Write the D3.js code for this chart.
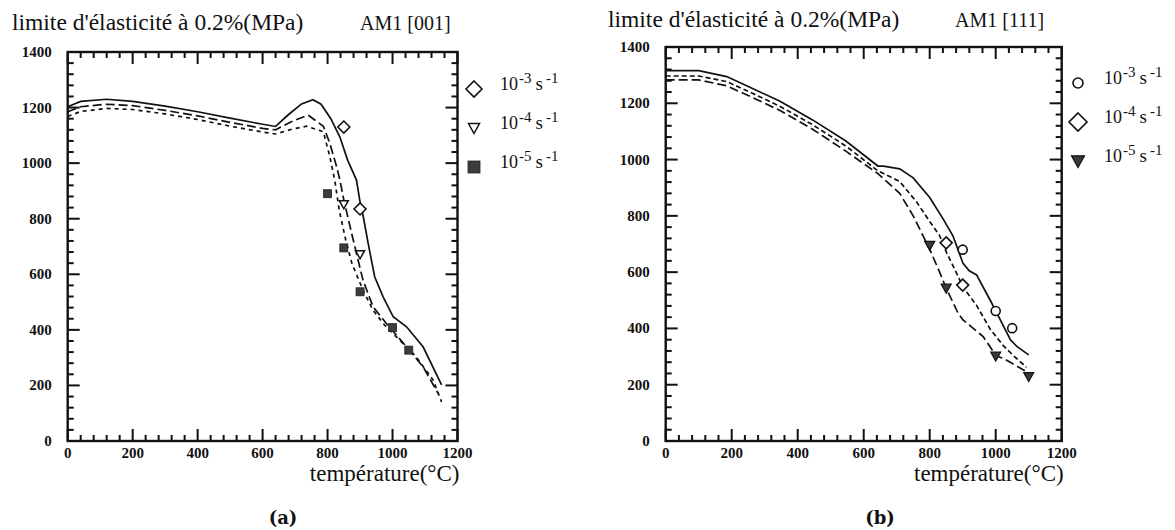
<!DOCTYPE html>
<html><head><meta charset="utf-8">
<script src="https://cdn.jsdelivr.net/npm/d3@7"></script>
<style>
html,body{margin:0;padding:0;background:#fff;}
svg{display:block;}
text{font-family:"Liberation Serif","Times New Roman",serif;fill:#111;}
</style></head>
<body>
<svg id="c" width="1175" height="530"></svg>
<script>
// ---------- data ----------
const xTickValues = [0, 200, 400, 600, 800, 1000, 1200];
const yTickValues = [0, 200, 400, 600, 800, 1000, 1200, 1400];
const xMinorStep = 40;
const yMinorStep = 40;
const titleText = "limite d'élasticité à 0.2%(MPa)";
const xLabelText = "température(°C)";
const panelNames = ["AM1 [001]", "AM1 [111]"];
const panelLetters = ["(a)", "(b)"];
const rateExponents = ["-3", "-4", "-5"];

// panel (a) AM1 [001] : model curves
const a_rate3_curve = [[0,1203],[40,1222],[120,1230],[200,1222],[300,1205],[400,1185],[500,1162],[600,1140],[640,1132],[680,1175],[720,1213],[755,1228],[780,1212],[810,1160],[838,1094],[862,1010],[889,939],[899,867],[910,807],[925,711],[945,591],[971,519],[1002,447],[1043,411],[1094,339],[1151,202]];
const a_rate4_curve = [[0,1185],[40,1203],[120,1212],[200,1207],[300,1190],[400,1170],[500,1147],[600,1125],[640,1120],[690,1150],[740,1173],[787,1133],[807,1071],[828,987],[838,939],[850,868],[870,768],[889,675],[909,579],[940,483],[981,423],[1043,339],[1094,267],[1140,172]];
const a_rate5_curve = [[0,1168],[40,1186],[120,1197],[200,1193],[300,1177],[400,1157],[500,1133],[600,1112],[640,1105],[690,1122],[735,1133],[787,1113],[807,1023],[822,939],[836,830],[856,723],[875,639],[909,543],[940,471],[971,423],[1022,363],[1073,303],[1125,219],[1151,141]];
// panel (a) measured points
const a_rate3_pts = [[850,1130],[900,835]];
const a_rate4_pts = [[850,852],[900,672]];
const a_rate5_pts = [[800,890],[850,695],[900,537],[1000,408],[1050,327]];

// panel (b) AM1 [111] : model curves
const b_rate3_curve = [[0,1316],[100,1316],[185,1295],[255,1257],[345,1208],[445,1141],[546,1066],[643,977],[660,977],[709,967],[750,935],[800,865],[840,790],[870,730],[886,679],[901,631],[920,605],[942,590],[983,501],[1000,462],[1045,359],[1065,335],[1100,306]];
const b_rate4_curve = [[0,1297],[100,1297],[185,1277],[255,1240],[345,1190],[445,1124],[546,1048],[643,960],[709,922],[760,850],[800,780],[830,730],[852,667],[880,600],[901,547],[942,482],[983,398],[1023,339],[1053,304],[1093,262]];
const b_rate5_curve = [[0,1283],[100,1283],[185,1262],[255,1225],[345,1175],[445,1108],[546,1030],[643,950],[709,880],[750,800],[801,679],[830,600],[850,543],[886,454],[901,430],[962,371],[1002,302],[1023,294],[1093,246]];
// panel (b) measured points
const b_rate3_pts = [[900,680],[1000,462],[1050,401]];
const b_rate4_pts = [[850,704],[900,554]];
const b_rate5_pts = [[800,695],[850,543],[1000,302],[1100,229]];

// ---------- drawing ----------
const svg = d3.select("#c");
const INK = "#111";

function marker(g, kind, x, y, s) {
  if (kind === "diamond") {
    g.append("path").attr("d", `M${x},${y-s}L${x+s},${y}L${x},${y+s}L${x-s},${y}Z`)
      .attr("fill", "#fff").attr("stroke", INK).attr("stroke-width", 1.6);
  } else if (kind === "triOpen") {
    g.append("path").attr("d", `M${x-s},${y-s*0.8}L${x+s},${y-s*0.8}L${x},${y+s}Z`)
      .attr("fill", "#fff").attr("stroke", INK).attr("stroke-width", 1.5);
  } else if (kind === "triFill") {
    g.append("path").attr("d", `M${x-s},${y-s*0.8}L${x+s},${y-s*0.8}L${x},${y+s}Z`)
      .attr("fill", "#3a3a3a").attr("stroke", INK).attr("stroke-width", 1.2);
  } else if (kind === "square") {
    g.append("rect").attr("x", x-s).attr("y", y-s).attr("width", 2*s).attr("height", 2*s)
      .attr("fill", "#3c3c3c").attr("stroke", "#222").attr("stroke-width", 0.8);
  } else if (kind === "circle") {
    g.append("circle").attr("cx", x).attr("cy", y).attr("r", s)
      .attr("fill", "#fff").attr("stroke", INK).attr("stroke-width", 1.6);
  }
}

function drawPanel(cfg) {
  const x = d3.scaleLinear().domain([0, 1200]).range([cfg.x0, cfg.x1]);
  const y = d3.scaleLinear().domain([0, 1400]).range([cfg.y0, cfg.y1]);
  const g = svg.append("g");
  const allX = d3.range(0, 1201, xMinorStep);
  const allY = d3.range(0, 1401, yMinorStep);
  const isMajor = v => v % 200 === 0;

  // ticks on all four sides, pointing inward, as rectangles
  const tk = g.append("g").attr("fill", INK);
  allX.forEach(v => {
    const L = isMajor(v) ? 12 : 6;
    tk.append("rect").attr("x", x(v) - 1).attr("y", cfg.y0 - L).attr("width", 2).attr("height", L);
    tk.append("rect").attr("x", x(v) - 1).attr("y", cfg.y1).attr("width", 2).attr("height", L);
  });
  allY.forEach(v => {
    const L = isMajor(v) ? 12 : 6;
    tk.append("rect").attr("x", cfg.x0).attr("y", y(v) - 1).attr("width", L).attr("height", 2);
    tk.append("rect").attr("x", cfg.x1 - L).attr("y", y(v) - 1).attr("width", L).attr("height", 2);
  });
  // frame
  g.append("rect").attr("x", cfg.x0).attr("y", cfg.y1).attr("width", cfg.x1 - cfg.x0).attr("height", cfg.y0 - cfg.y1)
    .attr("fill", "none").attr("stroke", INK).attr("stroke-width", 2.4);

  // tick labels
  g.selectAll(".xl").data(xTickValues).join("text")
    .attr("x", d => x(d)).attr("y", cfg.y0 + 17).attr("text-anchor", "middle")
    .attr("font-size", 15).attr("font-weight", "bold").text(d => d);
  g.selectAll(".yl").data(yTickValues).join("text")
    .attr("x", cfg.x0 - 16).attr("y", d => y(d) + 5).attr("text-anchor", "end")
    .attr("font-size", 15).attr("font-weight", "bold").text(d => d);

  // titles
  g.append("text").attr("x", cfg.titleX).attr("y", cfg.titleY).attr("font-size", 23.5).text(titleText);
  g.append("text").attr("x", cfg.nameX).attr("y", cfg.titleY).attr("font-size", 20).text(cfg.name);
  g.append("text").attr("x", cfg.x1 + 2).attr("y", 481).attr("text-anchor", "end").attr("font-size", 23).text(xLabelText);
  g.append("text").attr("x", cfg.letterX).attr("y", 524).attr("text-anchor", "middle")
    .style("font-family", "'DejaVu Serif', serif").attr("font-size", 18)
    .attr("font-weight", "bold").text(cfg.letter);

  // curves
  const line = d3.line().x(d => x(d[0])).y(d => y(d[1]));
  cfg.curves.forEach(c => {
    g.append("path").attr("d", line(c.data)).attr("fill", "none").attr("stroke", INK)
      .attr("stroke-width", 1.7).attr("stroke-dasharray", c.dash);
  });
  // points
  cfg.points.forEach(pt => {
    pt.data.forEach(d => marker(g, pt.kind, x(d[0]), y(d[1]), pt.size));
  });
  // legend
  cfg.legend.forEach((l, i) => {
    const ly = cfg.legY + i * 39;
    marker(g, l.kind, cfg.legX, ly, l.size);
    const t = g.append("text").attr("x", cfg.legX + 26).attr("y", ly + 1).attr("font-size", 18);
    t.append("tspan").text("10");
    t.append("tspan").attr("dy", -7).attr("dx", 1).attr("font-size", 15).text(rateExponents[i]);
    t.append("tspan").attr("dy", 7).attr("dx", 4).attr("font-size", 19).text("s");
    t.append("tspan").attr("dy", -7).attr("dx", 3).attr("font-size", 15).text("-1");
  });
}

drawPanel({
  x0: 67.7, x1: 457.5, y0: 441, y1: 52,
  titleX: 12, titleY: 30, nameX: 360, name: panelNames[0],
  letterX: 283, letter: panelLetters[0],
  curves: [
    {data: a_rate3_curve, dash: null},
    {data: a_rate4_curve, dash: "9,4"},
    {data: a_rate5_curve, dash: "4,4"}
  ],
  points: [
    {data: a_rate3_pts, kind: "diamond", size: 6},
    {data: a_rate4_pts, kind: "triOpen", size: 4.5},
    {data: a_rate5_pts, kind: "square", size: 4}
  ],
  legX: 474, legY: 89,
  legend: [
    {kind: "diamond", size: 8},
    {kind: "triOpen", size: 5.5},
    {kind: "square", size: 6}
  ]
});

drawPanel({
  x0: 665.7, x1: 1061.7, y0: 441, y1: 47,
  titleX: 608, titleY: 27, nameX: 955, name: panelNames[1],
  letterX: 880, letter: panelLetters[1],
  curves: [
    {data: b_rate3_curve, dash: null},
    {data: b_rate4_curve, dash: "5,3"},
    {data: b_rate5_curve, dash: "9,4"}
  ],
  points: [
    {data: b_rate3_pts, kind: "circle", size: 4.5},
    {data: b_rate4_pts, kind: "diamond", size: 6},
    {data: b_rate5_pts, kind: "triFill", size: 5}
  ],
  legX: 1078, legY: 83,
  legend: [
    {kind: "circle", size: 5},
    {kind: "diamond", size: 9},
    {kind: "triFill", size: 6.5}
  ]
});
</script>
</body></html>
